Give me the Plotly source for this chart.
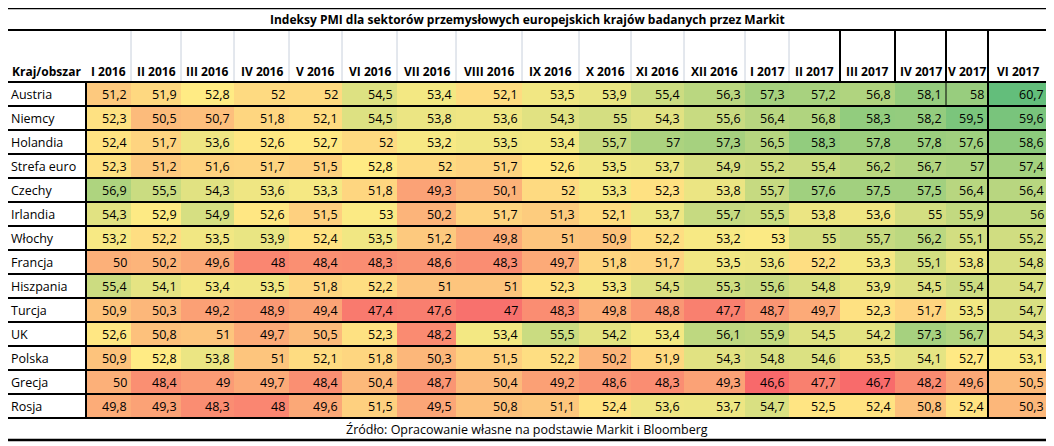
import numpy as np
import plotly.graph_objects as go

title = "Indeksy PMI dla sektorów przemysłowych europejskich krajów badanych przez Markit"
source = "Źródło: Opracowanie własne na podstawie Markit i Bloomberg"
months = ["I 2016", "II 2016", "III 2016", "IV 2016", "V 2016", "VI 2016", "VII 2016",
          "VIII 2016", "IX 2016", "X 2016", "XI 2016", "XII 2016", "I 2017", "II 2017",
          "III 2017", "IV 2017", "V 2017", "VI 2017"]
countries = ["Austria", "Niemcy", "Holandia", "Strefa euro", "Czechy", "Irlandia", "Włochy",
             "Francja", "Hiszpania", "Turcja", "UK", "Polska", "Grecja", "Rosja"]
values = [
    [51.2, 51.9, 52.8, 52, 52, 54.5, 53.4, 52.1, 53.5, 53.9, 55.4, 56.3, 57.3, 57.2, 56.8, 58.1, 58, 60.7],
    [52.3, 50.5, 50.7, 51.8, 52.1, 54.5, 53.8, 53.6, 54.3, 55, 54.3, 55.6, 56.4, 56.8, 58.3, 58.2, 59.5, 59.6],
    [52.4, 51.7, 53.6, 52.6, 52.7, 52, 53.2, 53.5, 53.4, 55.7, 57, 57.3, 56.5, 58.3, 57.8, 57.8, 57.6, 58.6],
    [52.3, 51.2, 51.6, 51.7, 51.5, 52.8, 52, 51.7, 52.6, 53.5, 53.7, 54.9, 55.2, 55.4, 56.2, 56.7, 57, 57.4],
    [56.9, 55.5, 54.3, 53.6, 53.3, 51.8, 49.3, 50.1, 52, 53.3, 52.3, 53.8, 55.7, 57.6, 57.5, 57.5, 56.4, 56.4],
    [54.3, 52.9, 54.9, 52.6, 51.5, 53, 50.2, 51.7, 51.3, 52.1, 53.7, 55.7, 55.5, 53.8, 53.6, 55, 55.9, 56],
    [53.2, 52.2, 53.5, 53.9, 52.4, 53.5, 51.2, 49.8, 51, 50.9, 52.2, 53.2, 53, 55, 55.7, 56.2, 55.1, 55.2],
    [50, 50.2, 49.6, 48, 48.4, 48.3, 48.6, 48.3, 49.7, 51.8, 51.7, 53.5, 53.6, 52.2, 53.3, 55.1, 53.8, 54.8],
    [55.4, 54.1, 53.4, 53.5, 51.8, 52.2, 51, 51, 52.3, 53.3, 54.5, 55.3, 55.6, 54.8, 53.9, 54.5, 55.4, 54.7],
    [50.9, 50.3, 49.2, 48.9, 49.4, 47.4, 47.6, 47, 48.3, 49.8, 48.8, 47.7, 48.7, 49.7, 52.3, 51.7, 53.5, 54.7],
    [52.6, 50.8, 51, 49.7, 50.5, 52.3, 48.2, 53.4, 55.5, 54.2, 53.4, 56.1, 55.9, 54.5, 54.2, 57.3, 56.7, 54.3],
    [50.9, 52.8, 53.8, 51, 52.1, 51.8, 50.3, 51.5, 52.2, 50.2, 51.9, 54.3, 54.8, 54.6, 53.5, 54.1, 52.7, 53.1],
    [50, 48.4, 49, 49.7, 48.4, 50.4, 48.7, 50.4, 49.2, 48.6, 48.3, 49.3, 46.6, 47.7, 46.7, 48.2, 49.6, 50.5],
    [49.8, 49.3, 48.3, 48, 49.6, 51.5, 49.5, 50.8, 51.1, 52.4, 53.6, 53.7, 54.7, 52.5, 52.4, 50.8, 52.4, 50.3],
]

# layout in pixels (page body adds an 8px offset, compensated in axis ranges)
col_edges = [86, 131, 181, 234, 289, 342, 397, 456, 522, 579, 631, 684, 745, 789, 840, 895, 946, 988, 1048]
left, right = 6, 1048
top, head_top, body_top, row_h = 8, 30, 82, 24
row_edges = [body_top + i * row_h for i in range(len(countries) + 1)]
bottom = row_edges[-1] + 22
off = 8

z = np.array(values)
vmin, vmax = z.min(), z.max()
mid = float(np.median(z))
p = (mid - vmin) / (vmax - vmin)
cs = [[0, "#F8696B"], [p, "#FFEB84"], [1, "#63BE7B"]]

font = "Open Sans"
fig = go.Figure(go.Heatmap(x=col_edges, y=row_edges, z=z, colorscale=cs,
                           zmin=vmin, zmax=vmax, showscale=False, hoverinfo="skip"))

ann = []
for i, c in enumerate(countries):
    yc = (row_edges[i] + row_edges[i + 1]) / 2
    ann.append(dict(x=left + 3, y=yc, text=c, xanchor="left", showarrow=False,
                    font=dict(size=12.5)))
    for j, v in enumerate(values[i]):
        t = ("%g" % v).replace(".", ",")
        ann.append(dict(x=col_edges[j + 1] - 2, y=yc, text=t, xanchor="right",
                        showarrow=False, font=dict(size=12.5)))
for j, m in enumerate(months):
    ann.append(dict(x=(col_edges[j] + col_edges[j + 1]) / 2, y=71, text="<b>" + m + "</b>",
                    showarrow=False, font=dict(size=12)))
ann.append(dict(x=(left + 86) / 2, y=71, text="<b>Kraj/obszar</b>", showarrow=False,
                font=dict(size=12)))
ann.append(dict(x=(left + right) / 2, y=(top + head_top) / 2, text="<b>" + title + "</b>",
                showarrow=False, font=dict(size=12)))
ann.append(dict(x=(left + right) / 2, y=(row_edges[-1] + bottom) / 2, text=source,
                showarrow=False, font=dict(size=12.5)))

shapes = []
def line(x0, y0, x1, y1, color="black", w=2):
    shapes.append(dict(type="line", x0=x0, y0=y0, x1=x1, y1=y1, xref="x", yref="y",
                       line=dict(color=color, width=w)))

# light header separators
for x in col_edges[1:14]:
    line(x, head_top, x, body_top, "#C8D0DC", 1)
for x in col_edges[14:18]:
    line(x, head_top, x, body_top)
line(col_edges[17], body_top, col_edges[17], row_edges[-1])
line(col_edges[16], body_top, col_edges[16], row_edges[1], "black", 1)
line(86, body_top, 86, row_edges[-1])
for y in [head_top] + row_edges:
    line(left, y, right, y)
shapes.append(dict(type="rect", x0=left, y0=top, x1=right, y1=bottom, xref="x", yref="y",
                   line=dict(color="black", width=2.5)))

fig.update_layout(
    width=1054, height=446, margin=dict(l=0, r=0, t=0, b=0),
    paper_bgcolor="white", plot_bgcolor="white",
    font=dict(family=font, color="black"),
    xaxis=dict(range=[off, 1054 + off], visible=False, fixedrange=True),
    yaxis=dict(range=[446 + off, off], visible=False, fixedrange=True),
    annotations=ann, shapes=shapes,
)
fig.write_html("out.html")
